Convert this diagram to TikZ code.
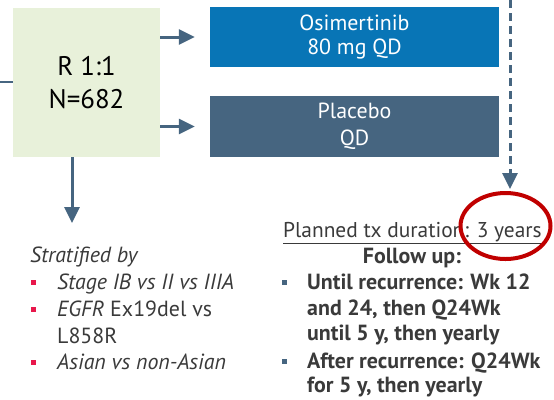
\documentclass[tikz,border=0pt]{standalone}
\usepackage{fontspec}
\setmainfont{PT Sans}
\usetikzlibrary{arrows.meta,shapes.geometric}
\definecolor{boxgreen}{RGB}{232,241,218}
\definecolor{osiblue}{RGB}{8,117,182}
\definecolor{plcblue}{RGB}{70,101,128}
\definecolor{arrowc}{RGB}{70,101,128}
\definecolor{txt}{RGB}{58,58,58}
\definecolor{bulletred}{RGB}{232,23,75}
\definecolor{ringred}{RGB}{192,0,0}
\tikzset{
  box/.style={rectangle, inner sep=0pt, align=center},
  arr/.style={draw=arrowc, line width=3bp, -{Triangle[length=16bp,width=15bp]}},
  plainline/.style={draw=arrowc, line width=2bp},
  txtline/.style={inner sep=0pt, anchor=base west, text=txt, font=\fontsize{22}{26}\selectfont},
  txtbold/.style={txtline, font=\fontsize{22}{26}\selectfont\bfseries},
  sqbullet/.style={rectangle, inner sep=0pt, minimum size=5bp, fill=#1},
}
\begin{document}
\begin{tikzpicture}[x=1bp,y=-1bp]
\useasboundingbox (0,0) rectangle (554,399);
% boxes
\node[box, fill=boxgreen, minimum width=147bp, minimum height=149bp,
      font=\fontsize{27}{33}\selectfont] (rand) at (86.5,82.5) {R 1:1\\N=682};
\node[box, fill=osiblue, text=white, minimum width=289bp, minimum height=60bp,
      font=\fontsize{22}{25}\selectfont] (osi) at (354.5,37) {Osimertinib\\80 mg QD};
\node[box, fill=plcblue, text=white, minimum width=289bp, minimum height=61bp,
      font=\fontsize{22}{27}\selectfont] (plc) at (354.5,126.5) {Placebo\\QD};
% connectors
\coordinate (in) at (0,82);
\draw[plainline] (in) -- (rand.west |- in);
\draw[arr] (rand.east |- osi.west) -- ([xshift=-15bp]osi.west);
\draw[arr] (rand.east |- plc.west) -- ([xshift=-15bp]plc.west);
\coordinate (strat) at (72,223);
\draw[arr] (rand.south -| strat) -- (strat);
\coordinate (dtop) at (510,0);
\coordinate (dend) at (510,189);
\draw[arr, dash pattern=on 8bp off 5bp] (dtop) -- (dend);
% left text
\node[txtline, font=\fontsize{22}{26}\selectfont\itshape] (s0) at (30,262.5) {Stratified by};
\node[sqbullet=bulletred] (b1) at (33,282) {};
\node[txtline, font=\fontsize{22}{26}\selectfont\itshape] (s1) at (57,289.5) {Stage IB vs II vs IIIA};
\node[sqbullet=bulletred] (b2) at (33,309) {};
\node[txtline] (s2) at (57,316.5) {\textit{EGFR} Ex19del vs};
\node[txtline] (s3) at (57,343.5) {L858R};
\node[sqbullet=bulletred] (b3) at (33,362) {};
\node[txtline, font=\fontsize{22}{26}\selectfont\itshape] (s4) at (57,369.5) {Asian vs non-Asian};
% right text
\node[txtline, font=\fontsize{21.5}{26}\selectfont] (r0) at (283,237) {\underline{Planned tx duration: 3 years}};
\node[txtbold, anchor=base] (r1) at (412,263.5) {Follow up:};
\node[sqbullet=plcblue] (b4) at (284,282) {};
\node[txtbold] (r2) at (307,289.5) {Until recurrence: Wk 12};
\node[txtbold] (r3) at (307,315) {and 24, then Q24Wk};
\node[txtbold] (r4) at (307,340.5) {until 5 y, then yearly};
\node[sqbullet=plcblue] (b5) at (284,361) {};
\node[txtbold] (r5) at (307,368.5) {After recurrence: Q24Wk};
\node[txtbold] (r6) at (307,392.5) {for 5 y, then yearly};
% ring
\node[ellipse, draw=ringred, line width=4bp, minimum width=90bp, minimum height=66bp, inner sep=0pt] (ring) at (505.5,226) {};
\end{tikzpicture}
\end{document}
